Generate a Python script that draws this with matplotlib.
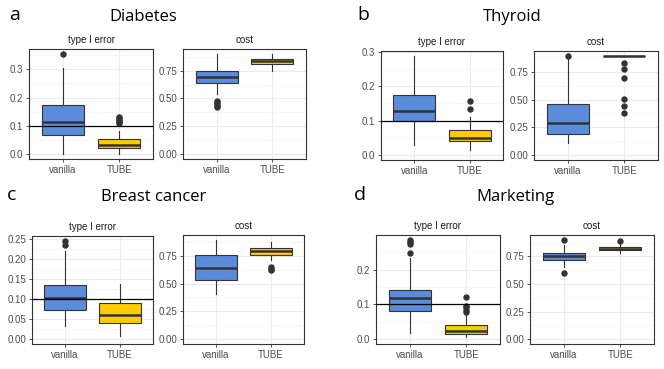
import numpy as np
import matplotlib
matplotlib.use("Agg")
import matplotlib.pyplot as plt
from matplotlib.ticker import FixedLocator, FormatStrFormatter

# groups and panels
methods = ["vanilla", "TUBE"]
letters = ["a", "b", "c", "d"]
datasets = ["Diabetes", "Thyroid", "Breast cancer", "Marketing"]

# box stats per method: [whislo, q1, median, q3, whishi]
err_box = {
    "Diabetes": [[0.0, 0.068, 0.113, 0.172, 0.305], [0.0, 0.023, 0.032, 0.053, 0.08]],
    "Thyroid": [[0.029, 0.098, 0.127, 0.174, 0.288], [0.0144, 0.042, 0.05, 0.072, 0.11]],
    "Breast cancer": [[0.033, 0.0716, 0.103, 0.135, 0.22], [0.0066, 0.040, 0.06, 0.089, 0.1375]],
    "Marketing": [[0.018, 0.08, 0.119, 0.143, 0.235], [0.006, 0.015, 0.024, 0.04, 0.072]],
}
err_out = {
    "Diabetes": [[0.354], [0.108, 0.113, 0.118, 0.122, 0.127, 0.131]],
    "Thyroid": [[], [0.134, 0.156]],
    "Breast cancer": [[0.234, 0.245], []],
    "Marketing": [[0.249, 0.273, 0.28, 0.286], [0.078, 0.083, 0.092, 0.095, 0.122]],
}
cost_box = {
    "Diabetes": [[0.537, 0.639, 0.696, 0.75, 0.897], [0.75, 0.813, 0.837, 0.858, 0.9]],
    "Thyroid": [[0.111, 0.189, 0.291, 0.462, 0.875], [0.897, 0.897, 0.897, 0.897, 0.897]],
    "Breast cancer": [[0.41, 0.534, 0.639, 0.755, 0.893], [0.713, 0.755, 0.797, 0.824, 0.875]],
    "Marketing": [[0.654, 0.72, 0.756, 0.78, 0.852], [0.786, 0.807, 0.819, 0.84, 0.867]],
}
cost_out = {
    "Diabetes": [[0.42, 0.435, 0.45, 0.465, 0.48], []],
    "Thyroid": [[0.897], [0.83, 0.78, 0.70, 0.51, 0.44, 0.38]],
    "Breast cancer": [[], [0.62, 0.635, 0.65]],
    "Marketing": [[0.9, 0.60], [0.891]],
}
err_ticks = {
    "Diabetes": [0.0, 0.1, 0.2, 0.3],
    "Thyroid": [0.0, 0.1, 0.2, 0.3],
    "Breast cancer": [0.0, 0.05, 0.1, 0.15, 0.2, 0.25],
    "Marketing": [0.0, 0.1, 0.2],
}
cost_ticks = [0.0, 0.25, 0.5, 0.75]
alpha_level = 0.1

colors = ["#5B8BDB", "#FFCC00"]
dark = "#333333"
W, H = 664, 369

# axes boxes in pixels: left, right, top, bottom
err_px = [(29, 153, 49, 159), (381, 503, 51, 160), (32, 153, 236, 344), (376, 500, 235, 344)]
cost_px = [(183, 306, 49, 159), (534, 658, 51, 160), (183, 304, 235, 344), (530, 654, 235, 344)]
letter_px = [(15, 15), (363, 15), (12, 195), (360, 195)]
title_px = [(143, 17), (512, 17), (154, 197), (516, 197)]

tick_font = "Liberation Sans"

fig = plt.figure(figsize=(W / 100, H / 100), dpi=100)


def make_ax(px):
    l, r, t, b = px
    return fig.add_axes([l / W, 1 - b / H, (r - l) / W, (b - t) / H])


def draw(ax, stats, outs, ticks, title, fmt, hline=None):
    bx = []
    for s, o, m in zip(stats, outs, methods):
        bx.append(dict(whislo=s[0], q1=s[1], med=s[2], q3=s[3], whishi=s[4],
                       fliers=o, label=m))
    top = max(max(s[4] for s in stats), max([v for o in outs for v in o] + [0]))
    # grid (theme_bw look)
    ax.set_facecolor("white")
    ax.set_xlim(0.4, 2.6)
    ax.set_ylim(-0.05 * top, 1.05 * top)
    step = ticks[1] - ticks[0]
    minors = [t + step / 2 for t in ticks if t + step / 2 < 1.05 * top]
    ax.yaxis.set_major_locator(FixedLocator(ticks))
    ax.yaxis.set_minor_locator(FixedLocator(minors))
    ax.yaxis.set_major_formatter(FormatStrFormatter(fmt))
    ax.grid(True, which="major", color="#EBEBEB", lw=0.8, zorder=0)
    ax.grid(True, which="minor", axis="y", color="#F4F4F4", lw=0.5, zorder=0)
    ax.set_axisbelow(True)
    b = ax.bxp(bx, positions=[1, 2], widths=0.75, patch_artist=True,
               showcaps=False,
               boxprops=dict(edgecolor=dark, lw=0.8),
               whiskerprops=dict(color=dark, lw=0.8),
               medianprops=dict(color=dark, lw=1.8),
               flierprops=dict(marker="o", markerfacecolor=dark, markeredgecolor=dark,
                               markersize=3.6, lw=0))
    for patch, c in zip(b["boxes"], colors):
        patch.set_facecolor(c)
    if hline is not None:
        ax.axhline(hline, color="black", lw=0.9, zorder=5)
    ax.set_xticks([1, 2])
    ax.set_xticklabels(methods)
    for sp in ax.spines.values():
        sp.set_color(dark)
        sp.set_linewidth(0.8)
    ax.tick_params(which="major", length=2.5, width=0.6, color=dark,
                   labelsize=7, labelcolor="#4D4D4D", pad=1.5)
    ax.tick_params(which="minor", length=0)
    for lab in ax.get_xticklabels() + ax.get_yticklabels():
        lab.set_fontfamily(tick_font)
    ax.set_title(title, fontsize=7, color="#1A1A1A", family=tick_font, pad=4)


for i, name in enumerate(datasets):
    ax1 = make_ax(err_px[i])
    fmt1 = "%.2f" if name == "Breast cancer" else "%.1f"
    draw(ax1, err_box[name], err_out[name], err_ticks[name], "type I error", fmt1, alpha_level)
    ax2 = make_ax(cost_px[i])
    draw(ax2, cost_box[name], cost_out[name], cost_ticks, "cost", "%.2f")
    lx, ly = letter_px[i]
    fig.text(lx / W, 1 - ly / H, letters[i], fontsize=14, family="Open Sans",
             ha="center", va="center")
    tx, ty = title_px[i]
    fig.text(tx / W, 1 - ty / H, name, fontsize=12, family="Open Sans",
             ha="center", va="center")

fig.savefig("out.png", dpi=100)
